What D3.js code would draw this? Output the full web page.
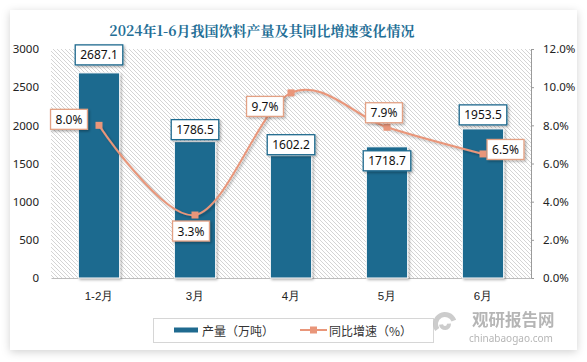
<!DOCTYPE html>
<html><head><meta charset="utf-8">
<script src="https://cdn.jsdelivr.net/npm/d3@7/dist/d3.min.js"></script>
<style>
html,body{margin:0;padding:0;background:#fff;}
svg{display:block;font-family:"Noto Sans","Noto Sans CJK SC",sans-serif;}
</style></head>
<body>
<svg id="chart" width="587" height="362"></svg>
<script>
const categories = ["1-2月", "3月", "4月", "5月", "6月"];
const production = [2687.1, 1786.5, 1602.2, 1718.7, 1953.5];
const growth = [8.0, 3.3, 9.7, 7.9, 6.5];
const leftTicks = [0, 500, 1000, 1500, 2000, 2500, 3000];
const rightTicks = [0, 2, 4, 6, 8, 10, 12];
const titleText = "2024年1-6月我国饮料产量及其同比增速变化情况";
const seriesNames = ["产量（万吨）", "同比增速（%）"];

// label placement offsets (layout only)
const barLabelDy = [-18, -12, -11, 14, -14];
const lineLabelOff = [[-30, -6], [-4, 16], [-26, 13.5], [-3, -14.5], [22.5, -4.5]];

const barColor = "#1f6a8f";
const lineColor = "#e9967a";

const svg = d3.select("#chart");
const defs = svg.append("defs");

const sh = defs.append("filter").attr("id", "cardShadow").attr("x", "-5%").attr("y", "-5%").attr("width", "110%").attr("height", "115%");
sh.append("feDropShadow").attr("dx", 0).attr("dy", 2).attr("stdDeviation", 4).attr("flood-color", "#000").attr("flood-opacity", 0.18);

const bs = defs.append("filter").attr("id", "barShadow").attr("x", "-20%").attr("y", "-20%").attr("width", "150%").attr("height", "150%");
bs.append("feDropShadow").attr("dx", 1.5).attr("dy", 1.5).attr("stdDeviation", 1.2).attr("flood-color", "#000").attr("flood-opacity", 0.3);

const pat = defs.append("pattern").attr("id", "hatch").attr("patternUnits", "userSpaceOnUse").attr("width", 4).attr("height", 4);
pat.append("path").attr("d", "M-1,-1L5,5M-1,3L1,5M3,-1L5,1").attr("stroke", "#cfcfcf").attr("stroke-width", 0.9);

// card
svg.append("rect").attr("x", 10).attr("y", 10).attr("width", 567).attr("height", 340)
  .attr("fill", "#fff").attr("filter", "url(#cardShadow)");

const L = 51, R = 531, T = 49, B = 278;

svg.append("rect").attr("x", L).attr("y", T).attr("width", R - L).attr("height", B - T).attr("fill", "url(#hatch)");

const x = d3.scaleBand().domain(categories).range([L, R]).paddingInner(0.57).paddingOuter(0.285);
const yL = d3.scaleLinear().domain([0, 3000]).range([B, T]);
const yR = d3.scaleLinear().domain([0, 12]).range([B, T]);

// title
svg.append("text").attr("x", 262).attr("y", 36).attr("text-anchor", "middle")
  .attr("font-size", 14).attr("font-weight", "bold").attr("fill", "#236e96")
  .attr("font-family", "'Noto Serif CJK SC','Noto Sans CJK SC',serif")
  .text(titleText);

// left axis
const gL = svg.append("g").attr("transform", `translate(${L},0)`)
  .call(d3.axisLeft(yL).tickValues(leftTicks).tickFormat(d3.format("d")).tickSize(0).tickPadding(12));
gL.select(".domain").remove();
gL.selectAll("text").attr("font-size", 11.5).attr("fill", "#222").attr("font-family", "Noto Sans");

// right axis
const gR = svg.append("g").attr("transform", `translate(${R},0)`)
  .call(d3.axisRight(yR).tickValues(rightTicks).tickFormat(d => d.toFixed(1) + "%").tickSizeInner(3).tickSizeOuter(3).tickPadding(9));
gR.select(".domain").attr("stroke", "#9a9a9a");
gR.selectAll(".tick line").attr("stroke", "#9a9a9a");
gR.selectAll("text").attr("font-size", 11.5).attr("fill", "#222").attr("font-family", "Noto Sans");

// bottom axis
const gB = svg.append("g").attr("transform", `translate(0,${B})`)
  .call(d3.axisBottom(x).tickSize(0).tickPadding(14));
gB.select(".domain").attr("stroke", "#bdbdbd");
gB.selectAll("text").attr("font-size", 11.5).attr("fill", "#222");

// bars
svg.append("g").selectAll("rect").data(production).join("rect")
  .attr("x", (d, i) => x(categories[i]))
  .attr("y", d => yL(d))
  .attr("width", x.bandwidth())
  .attr("height", d => B - yL(d))
  .attr("fill", barColor).attr("stroke", "#fff").attr("stroke-width", 1)
  .attr("filter", "url(#barShadow)");

// line
const cx = i => x(categories[i]) + x.bandwidth() / 2;
const line = d3.line().x((d, i) => cx(i)).y(d => yR(d)).curve(d3.curveCatmullRom.alpha(0));
svg.append("path").datum(growth).attr("d", line).attr("fill", "none")
  .attr("stroke", lineColor).attr("stroke-width", 2).attr("filter", "url(#barShadow)");
svg.append("g").selectAll("rect").data(growth).join("rect")
  .attr("x", (d, i) => cx(i) - 3.5).attr("y", d => yR(d) - 3.5)
  .attr("width", 7).attr("height", 7).attr("fill", lineColor);

// label boxes
function labelBox(g, cxp, cyp, txt, border) {
  const t = g.append("text").attr("x", cxp).attr("y", cyp).attr("text-anchor", "middle")
    .attr("dominant-baseline", "central").attr("font-size", 12).attr("fill", "#111").text(txt);
  const w = t.node().getComputedTextLength() + 10;
  g.insert("rect", "text").attr("x", cxp - w / 2).attr("y", cyp - 10).attr("width", w).attr("height", 20)
    .attr("fill", "#fff").attr("stroke", border).attr("stroke-width", 1.3).attr("filter", "url(#barShadow)");
}
production.forEach((d, i) => {
  const g = svg.append("g");
  labelBox(g, cx(i), yL(d) + barLabelDy[i], d.toFixed(1), barColor);
});
growth.forEach((d, i) => {
  const g = svg.append("g");
  labelBox(g, cx(i) + lineLabelOff[i][0], yR(d) + lineLabelOff[i][1], d.toFixed(1) + "%", "#e3a184");
});

// legend
const lg = svg.append("g");
lg.append("rect").attr("x", 153.5).attr("y", 318.5).attr("width", 280).attr("height", 24)
  .attr("fill", "#fff").attr("stroke", "#d6d6d6");
lg.append("rect").attr("x", 174).attr("y", 327.5).attr("width", 24).attr("height", 5).attr("fill", barColor);
lg.append("text").attr("x", 202).attr("y", 330.5).attr("dominant-baseline", "central")
  .attr("font-size", 12).attr("fill", "#333").attr("font-family", "Noto Sans CJK SC").text(seriesNames[0]);
lg.append("line").attr("x1", 300).attr("x2", 327).attr("y1", 330).attr("y2", 330).attr("stroke", lineColor).attr("stroke-width", 2);
lg.append("rect").attr("x", 310).attr("y", 326.5).attr("width", 7).attr("height", 7).attr("fill", lineColor);
lg.append("text").attr("x", 329).attr("y", 330.5).attr("dominant-baseline", "central")
  .attr("font-size", 12).attr("fill", "#333").attr("font-family", "Noto Sans CJK SC").text(seriesNames[1]);

// watermark
const wm = svg.append("g").attr("opacity", 0.85);
wm.append("path").attr("d", d3.arc()({innerRadius: 7, outerRadius: 12, startAngle: -2.2, endAngle: 1.2}))
  .attr("transform", "translate(445,324)").attr("fill", "#c4c4c4");
wm.append("path").attr("d", d3.arc()({innerRadius: 2, outerRadius: 6, startAngle: 1.5, endAngle: 4.6}))
  .attr("transform", "translate(445,324)").attr("fill", "#c4c4c4");
wm.append("text").attr("x", 472).attr("y", 325.5).attr("font-size", 16.5).attr("font-weight", "bold")
  .attr("fill", "#a9a9a9").attr("font-family", "Noto Sans CJK SC").text("观研报告网");
wm.append("text").attr("x", 469).attr("y", 342).attr("font-size", 10)
  .attr("fill", "#a9a9a9").text("chinabaogao.com");
</script>
</body></html>
